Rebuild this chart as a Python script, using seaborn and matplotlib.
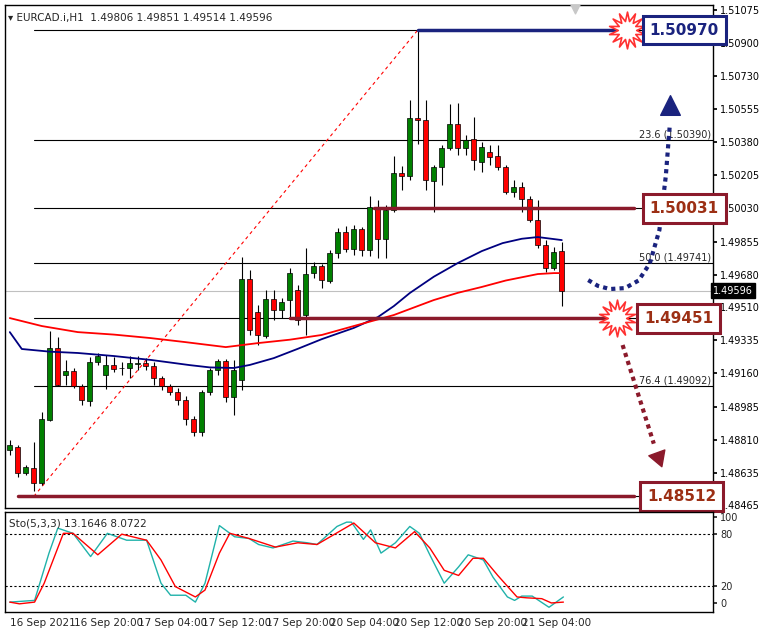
import numpy as np
import pandas as pd
import matplotlib.pyplot as plt
import seaborn as sns

sns.set_theme(style="white")
plt.rcParams['font.family'] = ['DejaVu Sans']

# EURCAD H1 candles (open, high, low, close)
opens = [1.48756, 1.48772, 1.48635, 1.48662, 1.48583, 1.48915, 1.49294, 1.49152, 1.49173, 1.49094,
         1.49015, 1.49220, 1.49152, 1.49204, 1.49190, 1.49189, 1.49210, 1.49215, 1.49199, 1.49136,
         1.49094, 1.49062, 1.49020, 1.48920, 1.48851, 1.49062, 1.49178, 1.49226, 1.49036, 1.49125,
         1.49658, 1.49484, 1.49357, 1.49552, 1.49494, 1.49547, 1.49600, 1.49468, 1.49689, 1.49726,
         1.49647, 1.49795, 1.49905, 1.49816, 1.49921, 1.49810, 1.50037, 1.49868, 1.50021, 1.50216,
         1.50201, 1.50506, 1.50496, 1.50174, 1.50248, 1.50348, 1.50475, 1.50348, 1.50395, 1.50274,
         1.50327, 1.50306, 1.50248, 1.50116, 1.50143, 1.50079, 1.49969, 1.49837, 1.49716, 1.49806]
highs = [1.48809, 1.48783, 1.48677, 1.48799, 1.48957, 1.49384, 1.49352, 1.49231, 1.49189, 1.49104,
         1.49247, 1.49268, 1.49257, 1.49247, 1.49220, 1.49252, 1.49252, 1.49241, 1.49220, 1.49147,
         1.49104, 1.49083, 1.49041, 1.48936, 1.49073, 1.49189, 1.49236, 1.49236, 1.49231, 1.49774,
         1.49705, 1.49521, 1.49600, 1.49600, 1.49558, 1.49716, 1.49626, 1.49821, 1.49747, 1.49737,
         1.49810, 1.49926, 1.49937, 1.49942, 1.49932, 1.50095, 1.50074, 1.50048, 1.50306, 1.50253,
         1.50601, 1.50970, 1.50601, 1.50258, 1.50364, 1.50580, 1.50585, 1.50417, 1.50511, 1.50380,
         1.50364, 1.50364, 1.50258, 1.50180, 1.50169, 1.50095, 1.50074, 1.49863, 1.49826, 1.49851]
lows = [1.48730, 1.48614, 1.48625, 1.48540, 1.48572, 1.48909, 1.49094, 1.49099, 1.49083, 1.48994,
        1.48988, 1.49204, 1.49078, 1.49168, 1.49150, 1.49136, 1.49178, 1.49178, 1.49099, 1.49073,
        1.49046, 1.48994, 1.48888, 1.48830, 1.48830, 1.49046, 1.49152, 1.49010, 1.48941, 1.49073,
        1.49363, 1.49310, 1.49347, 1.49442, 1.49452, 1.49452, 1.49415, 1.49363, 1.49663, 1.49610,
        1.49637, 1.49768, 1.49800, 1.49784, 1.49779, 1.49779, 1.49768, 1.49768, 1.50011, 1.50127,
        1.50180, 1.50369, 1.50127, 1.50011, 1.50153, 1.50338, 1.50311, 1.50311, 1.50232, 1.50222,
        1.50258, 1.50232, 1.50106, 1.50090, 1.50011, 1.49958, 1.49821, 1.49695, 1.49705, 1.49514]
closes = [1.48783, 1.48635, 1.48667, 1.48583, 1.48920, 1.49294, 1.49099, 1.49173, 1.49094, 1.49020,
          1.49220, 1.49252, 1.49204, 1.49183, 1.49188, 1.49215, 1.49215, 1.49199, 1.49136, 1.49094,
          1.49062, 1.49020, 1.48920, 1.48851, 1.49062, 1.49178, 1.49226, 1.49036, 1.49178, 1.49658,
          1.49389, 1.49363, 1.49552, 1.49494, 1.49537, 1.49689, 1.49442, 1.49684, 1.49726, 1.49652,
          1.49795, 1.49905, 1.49816, 1.49921, 1.49810, 1.50037, 1.49868, 1.50021, 1.50216, 1.50201,
          1.50506, 1.50496, 1.50180, 1.50248, 1.50348, 1.50475, 1.50348, 1.50390, 1.50285, 1.50353,
          1.50301, 1.50248, 1.50116, 1.50143, 1.50079, 1.49969, 1.49837, 1.49716, 1.49800, 1.49596]

# moving averages (bar index, price)
ma_blue_x = [0, 1.5, 5, 8.5, 13, 17.7, 22.5, 25, 28, 30, 33, 36, 39, 43, 46, 48, 50, 53, 56, 59, 61.6, 64, 66, 69]
ma_blue_y = [1.49378, 1.49289, 1.49275, 1.49268, 1.49252, 1.49231, 1.49204, 1.49192, 1.49189, 1.49205,
             1.49241, 1.49290, 1.49341, 1.49400, 1.49457, 1.49515, 1.49584, 1.49670, 1.49742, 1.49805,
             1.49847, 1.49870, 1.49879, 1.49863]
ma_red_x = [0, 4, 8.5, 13, 17.5, 22, 27, 31, 35, 39, 43, 48, 53, 56, 59, 62, 66, 68, 69]
ma_red_y = [1.49452, 1.49410, 1.49378, 1.49365, 1.49347, 1.49325, 1.49299, 1.49320, 1.49338, 1.49363,
            1.49410, 1.49468, 1.49547, 1.49585, 1.49616, 1.49650, 1.49684, 1.49689, 1.49689]

# stochastic
sto_main_x = [0, 3.1, 4.9, 6.0, 7.9, 10.1, 12.2, 14.6, 17.1, 18.9, 20.1, 22.0, 23.2, 24.4, 26.2,
              28.1, 29.9, 31.1, 32.9, 35.4, 37.2, 38.4, 40.9, 42.1, 42.7, 44.2, 45.1, 46.4, 48.2,
              50.0, 51.2, 52.5, 54.3, 56.1, 57.3, 59.2, 60.4, 62.2, 63.1, 64.0, 65.3, 67.4, 68.3, 69.2]
sto_main_y = [1, 3, 58, 87, 81, 54, 81, 73, 73, 23, 9, 9, 1, 23, 90, 77, 75, 68, 64, 72, 70, 68,
              89, 94, 94, 74, 85, 58, 70, 89, 81, 56, 23, 42, 56, 50, 30, 7, 3, 8, 8, -5, 1, 7]
sto_sig_x = [0, 1.2, 3.1, 4.3, 6.7, 7.9, 11.0, 14.0, 17.1, 18.9, 20.7, 23.2, 24.4, 26.2, 27.5,
             29.9, 33.2, 36.0, 38.4, 43.0, 45.7, 48.2, 50.6, 52.5, 54.3, 56.1, 57.9, 59.2, 61.0,
             63.4, 64.6, 66.5, 67.7, 69.2]
sto_sig_y = [1, -1, 1, 23, 81, 81, 56, 80, 73, 50, 19, 7, 15, 58, 81, 75, 65, 70, 68, 93, 70, 64,
             83, 64, 38, 32, 52, 52, 32, 7, 6, 5, 0, 1]

price_ticks = [1.51075, 1.50900, 1.50730, 1.50555, 1.50380, 1.50205, 1.50030, 1.49855, 1.49680,
               1.49510, 1.49335, 1.49160, 1.48985, 1.48810, 1.48635, 1.48465]
fib_levels = [1.50970, 1.50390, 1.50031, 1.49741, 1.49451, 1.49092, 1.48512]
fib_labels = {1.50390: "23.6 (1.50390)", 1.49741: "50.0 (1.49741)", 1.49092: "76.4 (1.49092)"}
date_ticks = [0, 8, 16, 24, 32, 40, 48, 56, 64]
date_labels = ["16 Sep 2021", "16 Sep 20:00", "17 Sep 04:00", "17 Sep 12:00", "17 Sep 20:00",
               "20 Sep 04:00", "20 Sep 12:00", "20 Sep 20:00", "21 Sep 04:00"]
last_price = 1.49596

# hand-drawn projection paths (bar index, price)
up_path_x = [72.3, 73.5, 75.0, 76.9, 78.6, 80.0, 81.2, 82.0, 82.5]
up_path_y = [1.49652, 1.49622, 1.49605, 1.49610, 1.49650, 1.49740, 1.49916, 1.50200, 1.50470]
down_path_x = [76.6, 80.5]
down_path_y = [1.49310, 1.48790]

df = pd.DataFrame({"o": opens, "h": highs, "l": lows, "c": closes})
df["i"] = np.arange(len(df))

fig = plt.figure(figsize=(7.63, 6.32), dpi=100)
W, H = 763, 632
ax = fig.add_axes([5 / W, (H - 508) / H, 708 / W, 503 / H])
ax2 = fig.add_axes([5 / W, (H - 612) / H, 708 / W, 100 / H])
for a in (ax, ax2):
    for s in a.spines.values():
        s.set_color("black")
        s.set_linewidth(1)

xmax = 87.9
ax.set_xlim(-0.6, xmax)
ax.set_ylim(1.48451, 1.51102)

# fibonacci lines
for lv in fib_levels:
    ax.plot([3, xmax], [lv, lv], color="black", lw=0.8, zorder=1)
for lv, t in fib_labels.items():
    ax.text(xmax - 0.2, lv + 0.00004, t, ha="right", va="bottom", fontsize=7, family="Liberation Sans Narrow")
ax.plot([3, 51], [1.48512, 1.50970], color="red", lw=0.8, ls=(0, (3, 3)), zorder=1)
ax.axhline(last_price, color="#c0c0c0", lw=0.8, zorder=1)

# candles
for _, r in df.iterrows():
    up = r.c >= r.o
    col = "#008000" if up else "red"
    ax.vlines(r.i, r.l, r.h, color="black", lw=0.8, zorder=3)
    lo, hi = min(r.o, r.c), max(r.o, r.c)
    ax.bar(r.i, max(hi - lo, 0.00002), bottom=lo, width=0.62, color=col, edgecolor="black", lw=0.5, zorder=4)

sns.lineplot(x=ma_blue_x, y=ma_blue_y, ax=ax, color="#000080", lw=1.3, zorder=5)
sns.lineplot(x=ma_red_x, y=ma_red_y, ax=ax, color="red", lw=1.3, zorder=5)

# support/resistance markup
ax.plot([51, 76], [1.50970, 1.50970], color="#1a237e", lw=2.5, zorder=6)
ax.plot([45.5, 78], [1.50031, 1.50031], color="#8b1a2b", lw=2.5, zorder=6)
ax.plot([35, 75], [1.49451, 1.49451], color="#8b1a2b", lw=2.5, zorder=6)
ax.plot([1, 78], [1.48512, 1.48512], color="#8b1a2b", lw=2.5, zorder=6)

def box(x, y, txt, ec, tc):
    ax.text(x, y, txt, ha="center", va="center", fontsize=11, fontweight="bold", color=tc,
            family="Liberation Sans Narrow", zorder=9, clip_on=False,
            bbox=dict(boxstyle="square,pad=0.45", fc="white", ec=ec, lw=2.2))

box(84.3, 1.50970, "1.50970", "#1a237e", "#1a237e")
box(84.3, 1.50031, "1.50031", "#8b1a2b", "#9c2f14")
box(83.6, 1.49451, "1.49451", "#8b1a2b", "#9c2f14")
box(84.0, 1.48512, "1.48512", "#8b1a2b", "#9c2f14")
ax.scatter([77.2, 75.9], [1.50970, 1.49451], marker=(14, 1, 0), s=700, fc="white",
           ec="#ff3030", lw=1.2, zorder=8)

# dotted projection arrows
ax.plot(up_path_x, up_path_y, color="#1a237e", lw=3, ls=(0, (1, 1)), zorder=7)
ax.scatter([82.5], [1.50575], marker="^", s=200, color="#1a237e", zorder=7)
ax.plot(down_path_x, down_path_y, color="#8b1a2b", lw=3, ls=(0, (1, 1)), zorder=7)
ax.scatter([81.0], [1.48720], marker=(3, 0, 200), s=200, color="#8b1a2b", zorder=7)

ax.yaxis.tick_right()
ax.set_yticks(price_ticks)
ax.set_yticklabels([f"{t:.5f}" for t in price_ticks], fontsize=7, family="Liberation Sans Narrow")
ax.tick_params(axis="y", length=3, pad=2, colors="black")
ax.set_xticks([])
ax.text(1.0, last_price, f"{last_price:.5f}", transform=ax.get_yaxis_transform(), ha="left",
        va="center", fontsize=7, color="white", family="Liberation Sans Narrow",
        bbox=dict(boxstyle="square,pad=0.25", fc="black", ec="black"), clip_on=False, zorder=10)
ax.text(0.004, 0.985, "\u25be EURCAD.i,H1  1.49806 1.49851 1.49514 1.49596", transform=ax.transAxes,
        ha="left", va="top", fontsize=7.5, family="Liberation Sans Narrow")
ax.scatter([70.7], [1.51085], marker="v", s=60, color="#c8c8c8", zorder=9)

# stochastic panel
ax2.set_xlim(-0.6, xmax)
ax2.set_ylim(-10.5, 105.8)
ax2.axhline(80, color="black", lw=0.8, ls=(0, (2, 2)))
ax2.axhline(20, color="black", lw=0.8, ls=(0, (2, 2)))
sns.lineplot(x=sto_main_x, y=sto_main_y, ax=ax2, color="#20b2aa", lw=1)
sns.lineplot(x=sto_sig_x, y=sto_sig_y, ax=ax2, color="red", lw=1)
ax2.yaxis.tick_right()
ax2.set_yticks([100, 80, 20, 0])
ax2.set_yticklabels(["100", "80", "20", "0"], fontsize=7, family="Liberation Sans Narrow")
ax2.tick_params(axis="y", length=3, pad=2)
ax2.set_xticks(date_ticks)
ax2.set_xticklabels(date_labels, fontsize=7.5, ha="left", family="Liberation Sans Narrow")
ax2.tick_params(axis="x", length=3, pad=1)
ax2.text(0.005, 0.93, "Sto(5,3,3) 13.1646 8.0722", transform=ax2.transAxes, ha="left", va="top",
         fontsize=7.5, family="Liberation Sans Narrow")

fig.savefig("out.png", dpi=100)
